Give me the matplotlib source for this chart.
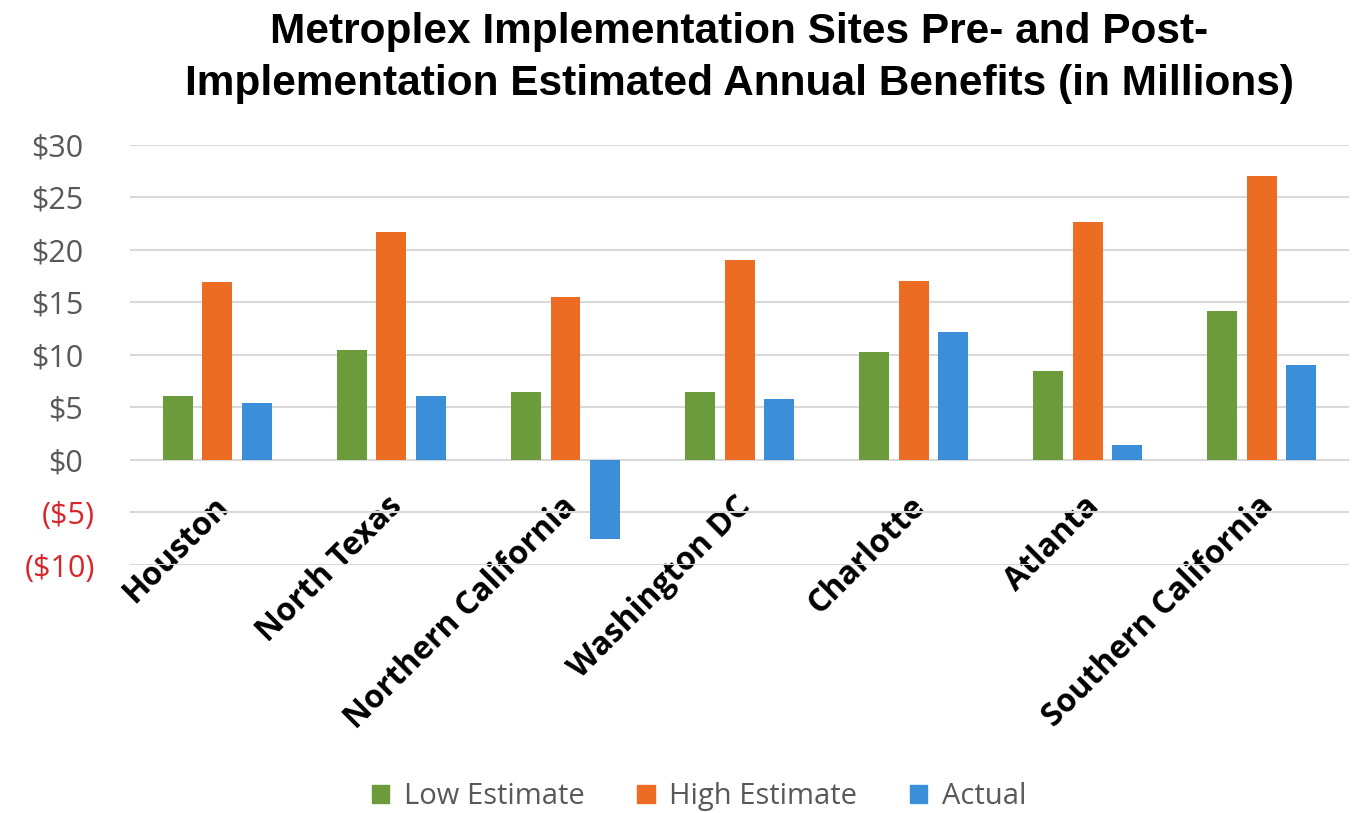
import numpy as np
import matplotlib.pyplot as plt
from matplotlib.patches import Patch
from matplotlib.transforms import ScaledTranslation

# Data (millions of dollars)
sites = ['Houston', 'North Texas', 'Northern California', 'Washington DC',
         'Charlotte', 'Atlanta', 'Southern California']
low_estimate = [6.1, 10.5, 6.5, 6.5, 10.3, 8.5, 14.2]
high_estimate = [16.9, 21.7, 15.5, 19.0, 17.0, 22.6, 27.0]
actual = [5.4, 6.1, -7.5, 5.8, 12.2, 1.4, 9.0]
y_ticks = [-10, -5, 0, 5, 10, 15, 20, 25, 30]
title_lines = ['Metroplex Implementation Sites Pre- and Post-',
               'Implementation Estimated Annual Benefits (in Millions)']

green = '#6b9b3a'
orange = '#eb6c22'
blue = '#3b8fd8'

fig = plt.figure(figsize=(13.57, 8.13), dpi=100)
ax = fig.add_axes([0.096, 0.305, 0.898, 0.517])

x = np.arange(len(sites))
w = 0.172
off = 0.227
ax.bar(x - off, low_estimate, w, color=green, zorder=3)
ax.bar(x, high_estimate, w, color=orange, zorder=3)
ax.bar(x + off, actual, w, color=blue, zorder=3)

ax.set_xlim(-0.5, len(sites) - 0.5)
ax.set_ylim(-10, 30)
ax.set_yticks(y_ticks)
labels = []
for v in y_ticks:
    labels.append(f'(${-v})' if v < 0 else f'${v}')
ax.set_yticklabels(labels, fontsize=22, family='Open Sans', color='#595959')
ax.tick_params(length=0)
ax.tick_params(axis='y', pad=34)
# negative labels hang out to the right (accounting format)
shift = ScaledTranslation(12 / 100, 0, fig.dpi_scale_trans)
for t, v in zip(ax.get_yticklabels(), y_ticks):
    if v < 0:
        t.set_color('#d9262b')
        t.set_transform(t.get_transform() + shift)

ax.set_xticks(x - 0.03)
ax.set_xticklabels(sites, rotation=45, ha='right', rotation_mode='anchor',
                   fontsize=23, fontweight='bold', family='Open Sans')
ax.tick_params(axis='x', pad=-54)

ax.grid(axis='y', color='#d9d9d9', linewidth=1.5, zorder=0)
for s in ax.spines.values():
    s.set_visible(False)

# title, two centred lines placed by baseline
for line, base in zip(title_lines, [43, 95]):
    fig.text(0.545, 1 - base / 813, line, ha='center', va='baseline',
             fontsize=30.5, fontweight='bold', family='Liberation Sans')

handles = [Patch(color=green, label='Low Estimate'),
           Patch(color=orange, label='High Estimate'),
           Patch(color=blue, label='Actual')]
fig.legend(handles=handles, loc='center', bbox_to_anchor=(0.515, 0.02),
           ncol=3, frameon=False, handlelength=0.6, handleheight=0.6,
           handletextpad=0.5, columnspacing=1.8,
           prop={'family': 'Open Sans', 'size': 21}, labelcolor='#595959')

fig.savefig('out.png', dpi=100)
